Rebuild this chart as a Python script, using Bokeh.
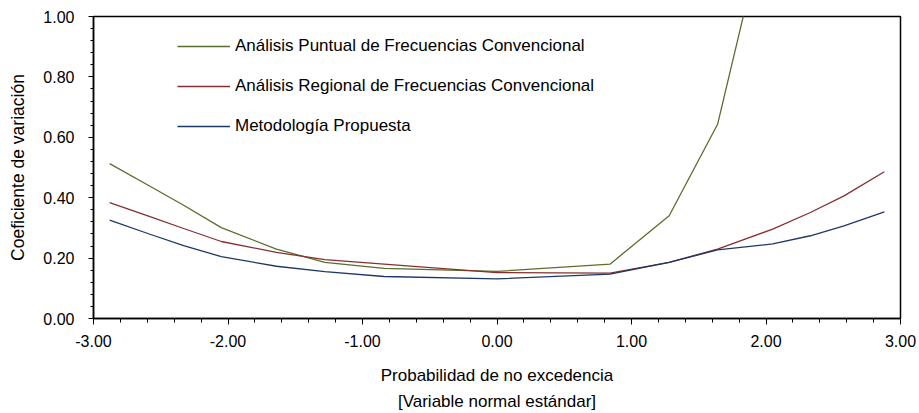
import math
from bokeh.plotting import figure
from bokeh.models import (FixedTicker, PrintfTickFormatter, Range1d, Legend, LegendItem, LinearAxis)
from bokeh.embed import file_html
from bokeh.resources import INLINE

# Standard normal variable (x) and coefficient of variation series
x_vals = [-2.88, -2.58, -2.33, -2.05, -1.64, -1.28, -0.84, 0.0, 0.84, 1.28, 1.64, 2.05, 2.33, 2.58, 2.88]
puntual = [0.513, 0.438, 0.375, 0.301, 0.230, 0.186, 0.166, 0.156, 0.180, 0.340, 0.643, 1.41,
           float("nan"), float("nan"), float("nan")]
regional = [0.384, 0.337, 0.298, 0.255, 0.219, 0.195, 0.180, 0.152, 0.150, 0.186, 0.230, 0.296, 0.351, 0.406, 0.486]
propuesta = [0.326, 0.279, 0.241, 0.205, 0.173, 0.155, 0.139, 0.131, 0.147, 0.186, 0.227, 0.247, 0.274, 0.307, 0.353]

series_names = ["Análisis Puntual de Frecuencias Convencional",
                "Análisis Regional de Frecuencias Convencional",
                "Metodología Propuesta"]
x_ticks = [-3, -2, -1, 0, 1, 2, 3]
y_ticks = [0.0, 0.2, 0.4, 0.6, 0.8, 1.0]
x_title = ["Probabilidad de no excedencia", "[Variable normal estándar]"]
y_title = "Coeficiente de variación"

FONT = "Liberation Sans"
colors = ["#5a6e2c", "#853030", "#1d3864"]

p = figure(width=919, height=413, output_backend="svg", toolbar_location=None,
           x_range=Range1d(-3, 3), y_range=Range1d(0, 1),
           min_border_left=93, min_border_right=19, min_border_top=16, min_border_bottom=94)
p.grid.visible = False
p.outline_line_color = "black"
p.outline_line_width = 1.5
p.background_fill_color = "white"
p.border_fill_color = "white"

r1 = p.line(x_vals, puntual, line_color=colors[0], line_width=1.3)
r2 = p.line(x_vals, regional, line_color=colors[1], line_width=1.3)
r3 = p.line(x_vals, propuesta, line_color=colors[2], line_width=1.3)

# x axis
xa = p.xaxis[0]
xa.ticker = FixedTicker(ticks=x_ticks, minor_ticks=[round(-3 + 0.2 * i, 2) for i in range(31)])
xa.formatter = PrintfTickFormatter(format="%.2f")
xa.major_tick_out = 6
xa.major_tick_in = 0
xa.minor_tick_out = 4
xa.minor_tick_in = 0
xa.major_label_standoff = 10
xa.major_label_text_font = FONT
xa.major_label_text_font_size = "16px"
xa.major_label_text_color = "black"
xa.axis_line_width = 1.5
xa.axis_line_color = "black"
xa.axis_label = x_title[0]
xa.axis_label_text_font = FONT
xa.axis_label_text_font_size = "17px"
xa.axis_label_text_font_style = "normal"
xa.axis_label_text_color = "black"
xa.axis_label_standoff = 16

# second line of the x title
xa2 = LinearAxis(ticker=FixedTicker(ticks=[]), axis_line_color=None,
                 major_tick_out=0, minor_tick_out=0, major_tick_in=0, minor_tick_in=0,
                 axis_label=x_title[1], axis_label_text_font=FONT, axis_label_text_font_size="17px",
                 axis_label_text_font_style="normal", axis_label_text_color="black",
                 axis_label_standoff=4, major_label_text_font_size="0px")
p.add_layout(xa2, "below")

# y axis
ya = p.yaxis[0]
ya.ticker = FixedTicker(ticks=y_ticks, minor_ticks=[round(0.04 * i, 2) for i in range(26)])
ya.formatter = PrintfTickFormatter(format="%.2f")
ya.major_tick_out = 5
ya.major_tick_in = 0
ya.minor_tick_out = 3
ya.minor_tick_in = 0
ya.major_label_standoff = 14
ya.major_label_text_font = FONT
ya.major_label_text_font_size = "16px"
ya.major_label_text_color = "black"
ya.axis_line_width = 1.5
ya.axis_line_color = "black"
ya.axis_label = y_title
ya.axis_label_text_font = FONT
ya.axis_label_text_font_size = "17.5px"
ya.axis_label_text_font_style = "normal"
ya.axis_label_text_color = "black"
ya.axis_label_standoff = 12

legend = Legend(items=[LegendItem(label=series_names[0], renderers=[r1]),
                       LegendItem(label=series_names[1], renderers=[r2]),
                       LegendItem(label=series_names[2], renderers=[r3])],
                location=(84, 182), padding=0, margin=0, spacing=20,
                glyph_width=53, glyph_height=20, label_height=20, label_standoff=5,
                border_line_color=None, background_fill_alpha=0,
                label_text_font=FONT, label_text_font_size="17px", label_text_color="black")
p.add_layout(legend, "center")

open("out.html", "w").write(file_html(p, INLINE))
